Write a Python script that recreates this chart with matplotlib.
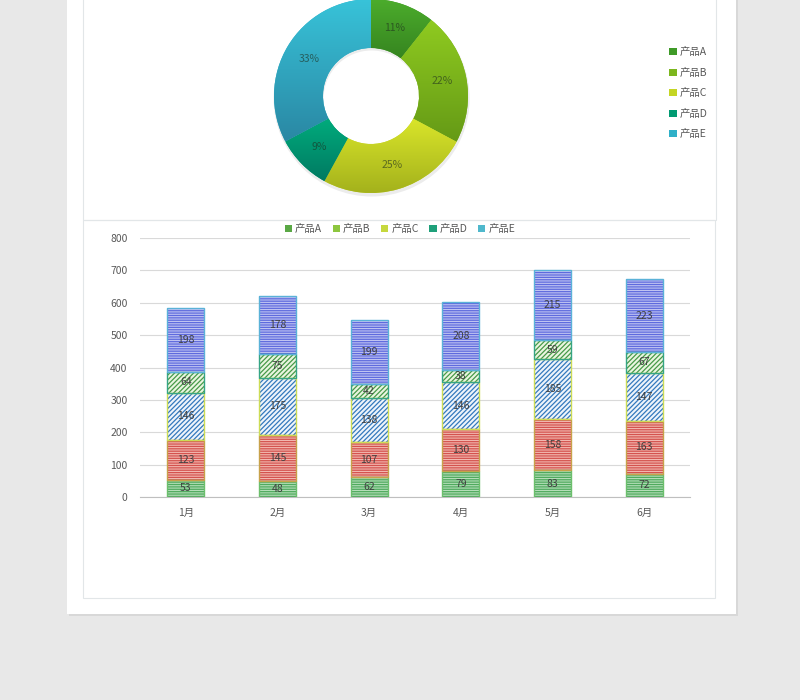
import numpy as np
import matplotlib.pyplot as plt
from matplotlib.patches import Rectangle
from matplotlib.colors import LinearSegmentedColormap

plt.rcParams['font.family'] = ['Noto Sans CJK SC', 'DejaVu Sans']
plt.rcParams['hatch.linewidth'] = 0.9

months = ['1月', '2月', '3月', '4月', '5月', '6月']
products = ['产品A', '产品B', '产品C', '产品D', '产品E']
prod_a = [53, 48, 62, 79, 83, 72]
prod_b = [123, 145, 107, 130, 158, 163]
prod_c = [146, 175, 138, 146, 185, 147]
prod_d = [64, 75, 42, 38, 59, 67]
prod_e = [198, 178, 199, 208, 215, 223]
series = [prod_a, prod_b, prod_c, prod_d, prod_e]

pie_colors = ['#3f9a28', '#7cb61e', '#c4d524', '#019a72', '#2fb0c8']
# gradient top / bottom for each wedge
pie_grad = [('#4cad2c', '#368520'), ('#8fca20', '#659a16'), ('#d9e52a', '#a4b21c'),
            ('#00ab7c', '#007a62'), ('#38c3d9', '#2a88a4')]
legend_colors = ['#5aa845', '#8dc63f', '#c6d83e', '#1fa07a', '#4fb8cc']
# face, hatch colour, edge, hatch pattern
bar_styles = [
    ('#b4deb8', '#4faa5e', '#6cbf6c', '-------'),
    ('#f2b8b0', '#d4524e', '#c7a24a', '-------'),
    ('#eef4fb', '#3479bd', '#cddc55', '///////'),
    ('#eaf5e0', '#479a48', '#35a585', '///////'),
    ('#c0c4f2', '#5e6ade', '#5ab2d8', '-------'),
]

fig = plt.figure(figsize=(8, 7), dpi=100)
fig.patch.set_facecolor('#e8e8e8')

W, H = 800, 700
def fx(px): return px / W
def fy(py): return 1 - py / H

# page + panels
fig.patches.append(Rectangle((fx(69), fy(616)), fx(669), 616 / H, transform=fig.transFigure,
                             facecolor='#d8d8d8', edgecolor='none', zorder=-3))
fig.patches.append(Rectangle((fx(67), fy(614)), fx(669), 614 / H, transform=fig.transFigure,
                             facecolor='white', edgecolor='none', zorder=-2))
for (x0, y0, x1, y1) in [(83, -5, 716, 220), (83, 220, 715, 598)]:
    fig.patches.append(Rectangle((fx(x0), fy(y1)), fx(x1 - x0), (y1 - y0) / H,
                                 transform=fig.transFigure, facecolor='none',
                                 edgecolor='#e2e6e8', linewidth=0.8, zorder=-1))

# donut
totals = [sum(s) for s in series]
ax_p = fig.add_axes([fx(371 - 100), fy(96 + 100), fx(200), 200 / H])
ax_p.set_aspect('equal')
ax_p.axis('off')
# soft shadow
ax_p.pie([1], colors=['#ececec'], radius=0.98, center=(0.006, -0.025),
         wedgeprops=dict(width=0.5, edgecolor='none'))
wedges, _ = ax_p.pie(totals, colors=pie_colors, startangle=90, counterclock=False,
                     radius=0.97, wedgeprops=dict(width=0.49, edgecolor='none'))
for w, (top, bot) in zip(wedges, pie_grad):
    ext = w.get_path().get_extents(w.get_patch_transform())
    cmap = LinearSegmentedColormap.from_list('g', [top, bot])
    grad = np.linspace(0, 1, 64).reshape(-1, 1)
    im = ax_p.imshow(grad, cmap=cmap, aspect='auto', origin='upper',
                     extent=[ext.x0, ext.x1, ext.y0, ext.y1], zorder=2)
    im.set_clip_path(w)
ax_p.set_xlim(-1, 1)
ax_p.set_ylim(-1, 1)
pct = np.array(totals) / sum(totals)
cum = np.cumsum(pct) - pct / 2
for p, c in zip(pct, cum):
    ang = np.deg2rad(90 - 360 * c)
    r = 0.725
    ax_p.text(r * np.cos(ang), r * np.sin(ang), f'{p*100:.0f}%', ha='center', va='center',
              fontsize=7.5, color='#1e2e1e', alpha=0.6, zorder=3)

fig.legend(wedges, products, loc='upper left', bbox_to_anchor=(fx(660), fy(38)),
           frameon=False, fontsize=7.5, handlelength=0.7, handleheight=0.7,
           handletextpad=0.25, labelspacing=1.0, labelcolor='#595959')

# stacked bars
ax = fig.add_axes([fx(140), fy(497), fx(550), (497 - 238) / H])
x = np.arange(len(months))
bottom = np.zeros(len(months))
handles = []
for vals, (face, hcol, edge, hatch), lc in zip(series, bar_styles, legend_colors):
    vals = np.array(vals)
    ax.bar(x, vals, 0.4, bottom=bottom, color=face, edgecolor=hcol, hatch=hatch,
           linewidth=0, zorder=2)
    ax.bar(x, vals, 0.4, bottom=bottom, color='none', edgecolor=edge, linewidth=1.0, zorder=3)
    for xi, v, b in zip(x, vals, bottom):
        ax.text(xi, b + v / 2, str(v), ha='center', va='center', fontsize=7.5,
                color='#404040', zorder=4)
    bottom += vals
    handles.append(Rectangle((0, 0), 1, 1, facecolor=lc, edgecolor='none'))

ax.set_xlim(-0.5, 5.5)
ax.set_ylim(0, 800)
ax.set_yticks(range(0, 801, 100))
ax.set_xticks(x)
ax.set_xticklabels(months)
ax.grid(axis='y', color='#d9d9d9', linewidth=0.8, zorder=0)
ax.set_axisbelow(True)
for s in ['top', 'right', 'left']:
    ax.spines[s].set_visible(False)
ax.spines['bottom'].set_color('#bfbfbf')
ax.tick_params(length=0, labelsize=7.5, labelcolor='#595959')
ax.tick_params(axis='x', pad=8)
ax.tick_params(axis='y', pad=9)

fig.legend(handles, products, loc='center', bbox_to_anchor=(fx(400), fy(229)), ncol=5,
           frameon=False, fontsize=7.5, handlelength=0.7, handleheight=0.7,
           handletextpad=0.3, columnspacing=1.0, labelcolor='#595959')

fig.savefig('out.png', dpi=100, facecolor=fig.get_facecolor())
